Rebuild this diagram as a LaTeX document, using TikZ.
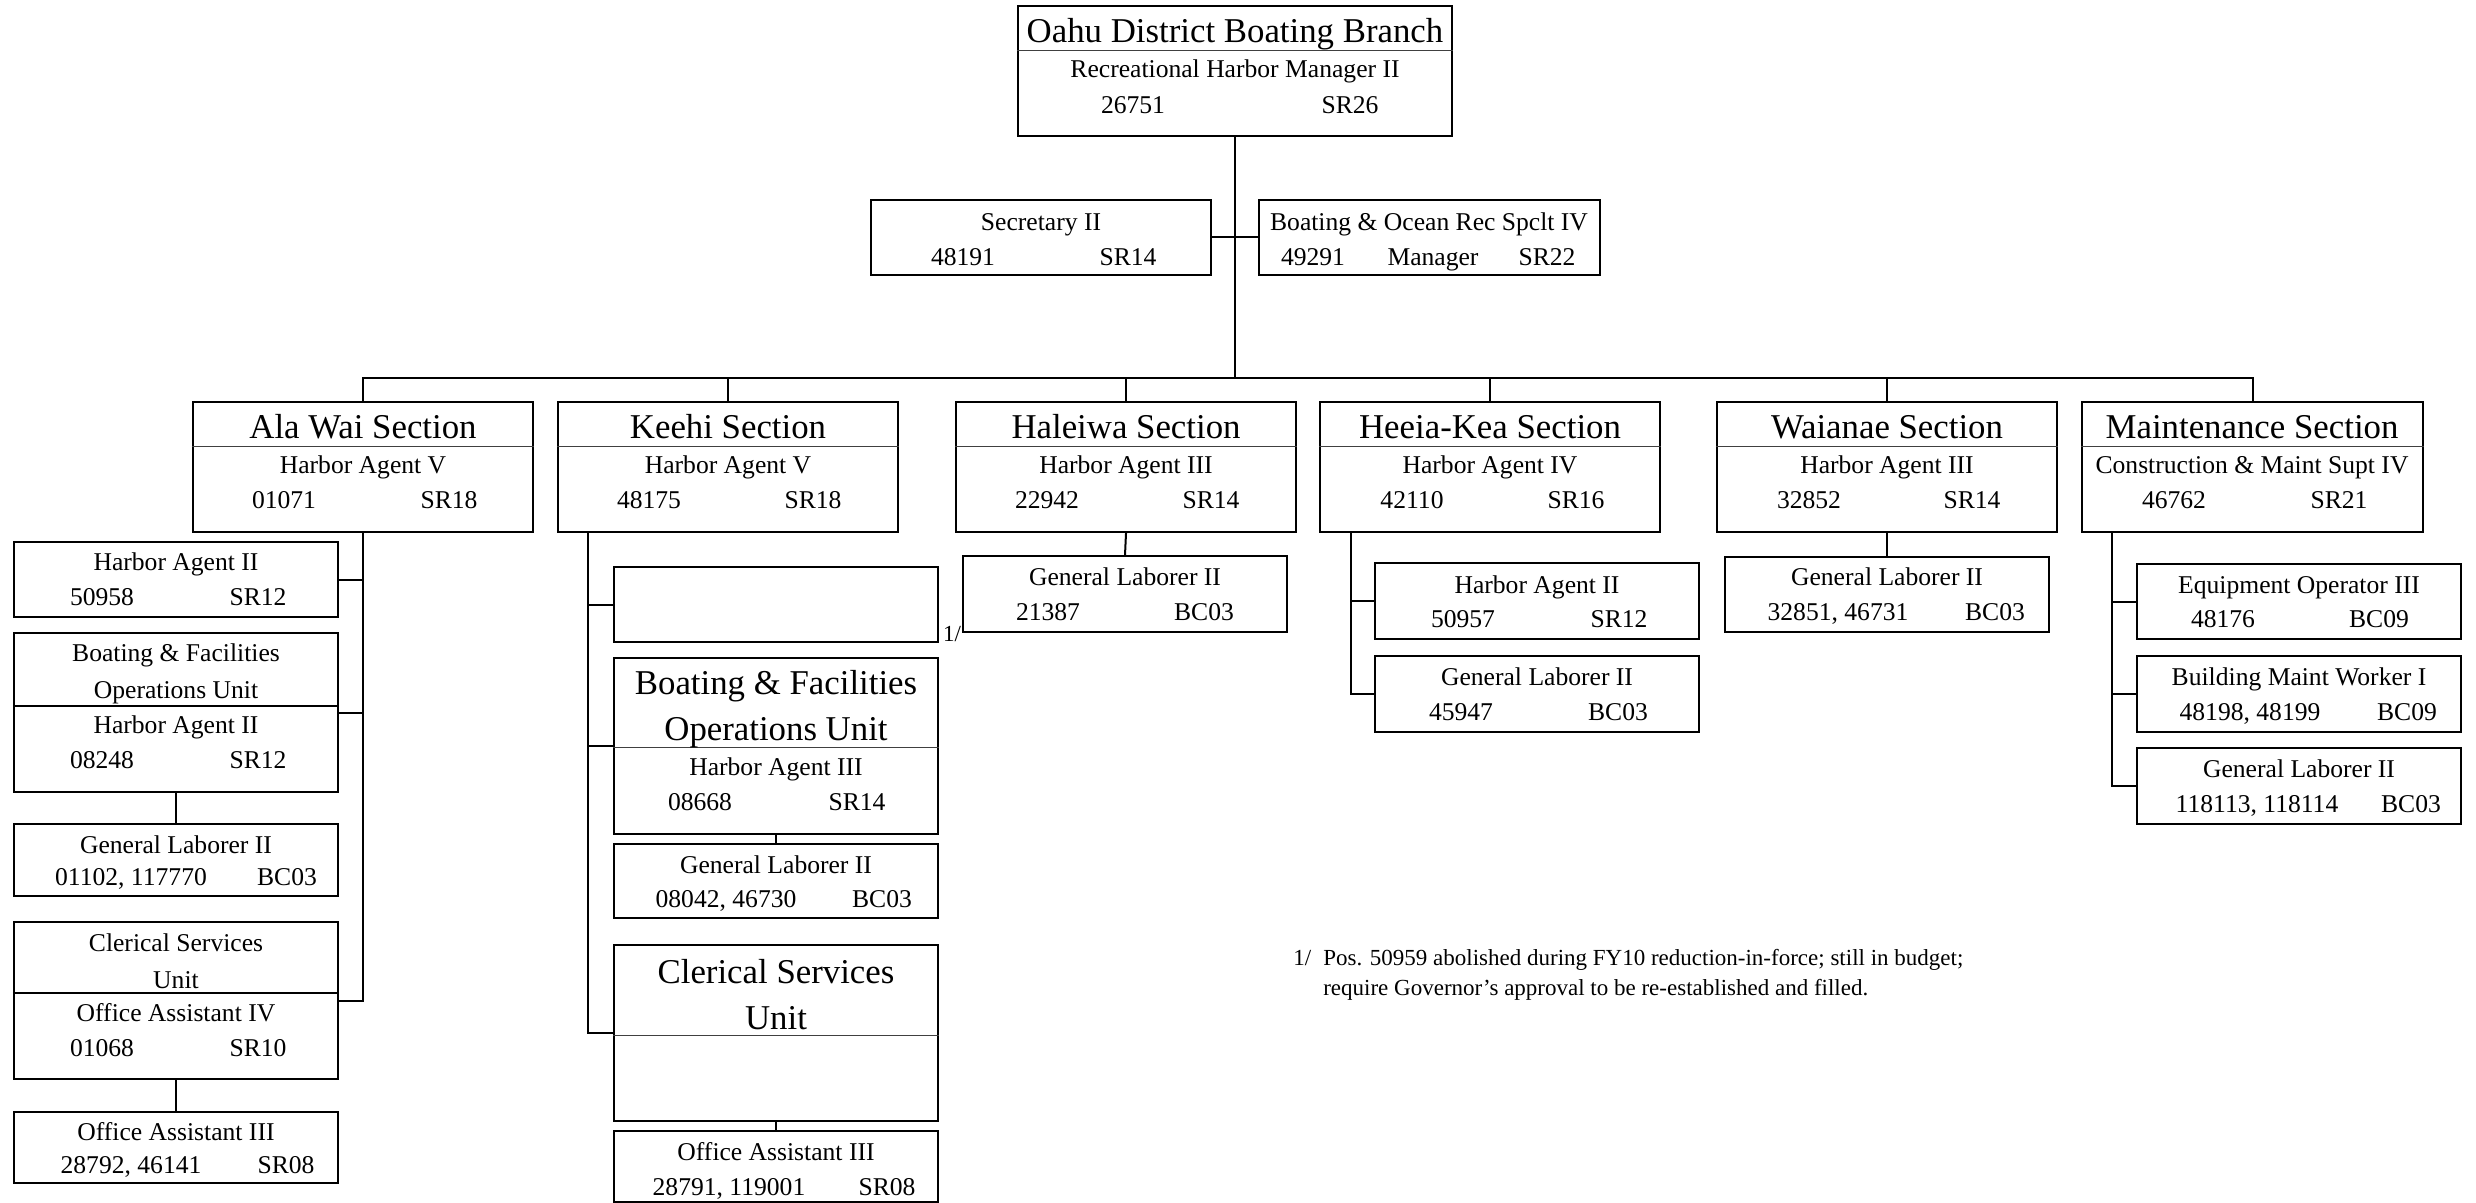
\documentclass[tikz,border=0pt]{standalone}
\usepackage{fontspec}
\setmainfont{Liberation Serif}
\usetikzlibrary{fit}

\begin{document}
\begin{tikzpicture}[x=0.5pt, y=-0.5pt,
  box/.style={draw, line width=1.2pt, inner sep=0pt},
  txt/.style={inner sep=0pt, font=\fontsize{12.8}{18.5}\selectfont, text height=8.5pt, text depth=0pt},
  bigtxt/.style={inner sep=0pt, font=\fontsize{17.4}{23}\selectfont, text height=11.5pt, text depth=0pt},
  para/.style={inner sep=0pt, font=\fontsize{12.8}{18.5}\selectfont, align=center},
  bigpara/.style={inner sep=0pt, font=\fontsize{17.4}{23}\selectfont, align=center},
  note/.style={inner sep=0pt, font=\fontsize{11.5}{15}\selectfont},
  link/.style={line width=1pt},
  rule/.style={line width=0.5pt, black!75}]
  \useasboundingbox (0,0) rectangle (2476,1203);

  % branch head and staff
  \node[box, fit={(1018,6) (1452,136)}] (branch) {};
  \draw[rule] ([yshift=-23pt]branch.north west) -- ([yshift=-23pt]branch.north east);
  \node[bigtxt] (branchttl) at (1235,31) {Oahu District Boating Branch};
  \node[txt] (branchjob) at (1235,69) {Recreational Harbor Manager II};
  \node[txt] (branchnum) at (1133,105) {26751};
  \node[txt] (branchsr) at (1350,105) {SR26};

  \node[box, fit={(871,200) (1211,275)}] (sec) {};
  \node[txt] (secjob) at (1041,222) {Secretary II};
  \node[txt] (secnum) at (963,257) {48191};
  \node[txt] (secsr) at (1128,257) {SR14};

  \node[box, fit={(1259,200) (1600,275)}] (boat) {};
  \node[txt] (boatjob) at (1429,222) {Boating \& Ocean Rec Spclt IV};
  \node[txt] (boatnum) at (1313,257) {49291};
  \node[txt] (boatmgr) at (1433,257) {Manager};
  \node[txt] (boatsr) at (1547,257) {SR22};

  \coordinate (bus) at (1235,378);

  % sections
  \node[box, fit={(193,402) (533,532)}] (alawai) {};
  \node[bigtxt] (alawaittl) at (363,427) {Ala Wai Section};
  \node[txt] (alawaijob) at (363,465) {Harbor Agent V};
  \node[txt] (alawainum) at (284,500) {01071};
  \node[txt] (alawaisr) at (449,500) {SR18};

  \node[box, fit={(558,402) (898,532)}] (keehi) {};
  \node[bigtxt] (keehittl) at (728,427) {Keehi Section};
  \node[txt] (keehijob) at (728,465) {Harbor Agent V};
  \node[txt] (keehinum) at (649,500) {48175};
  \node[txt] (keehisr) at (813,500) {SR18};

  \node[box, fit={(956,402) (1296,532)}] (haleiwa) {};
  \node[bigtxt] (haleiwattl) at (1126,427) {Haleiwa Section};
  \node[txt] (haleiwajob) at (1126,465) {Harbor Agent III};
  \node[txt] (haleiwanum) at (1047,500) {22942};
  \node[txt] (haleiwasr) at (1211,500) {SR14};

  \node[box, fit={(1320,402) (1660,532)}] (heeia) {};
  \node[bigtxt] (heeiattl) at (1490,427) {Heeia-Kea Section};
  \node[txt] (heeiajob) at (1490,465) {Harbor Agent IV};
  \node[txt] (heeianum) at (1412,500) {42110};
  \node[txt] (heeiasr) at (1576,500) {SR16};

  \node[box, fit={(1717,402) (2057,532)}] (waianae) {};
  \node[bigtxt] (waianaettl) at (1887,427) {Waianae Section};
  \node[txt] (waianaejob) at (1887,465) {Harbor Agent III};
  \node[txt] (waianaenum) at (1809,500) {32852};
  \node[txt] (waianaesr) at (1972,500) {SR14};

  \node[box, fit={(2082,402) (2423,532)}] (maint) {};
  \node[bigtxt] (maintttl) at (2252,427) {Maintenance Section};
  \node[txt] (maintjob) at (2252,465) {Construction \& Maint Supt IV};
  \node[txt] (maintnum) at (2174,500) {46762};
  \node[txt] (maintsr) at (2339,500) {SR21};

  \foreach \s in {alawai,keehi,haleiwa,heeia,waianae,maint}
    \draw[rule] ([yshift=-23pt]\s.north west) -- ([yshift=-23pt]\s.north east);

  % ala wai units
  \node[box, fit={(14,542) (338,617)}] (aha) {};
  \node[txt] (ahajob) at (176,562) {Harbor Agent II};
  \node[txt] (ahanum) at (102,597) {50958};
  \node[txt] (ahasr) at (258,597) {SR12};

  \node[box, fit={(14,633) (338,792)}] (abfo) {};
  \draw[link] ([yshift=-37pt]abfo.north west) -- ([yshift=-37pt]abfo.north east);
  \node[para] (abfottl) at (176,674) {Boating \& Facilities\\Operations Unit};
  \node[txt] (abfojob) at (176,725) {Harbor Agent II};
  \node[txt] (abfonum) at (102,760) {08248};
  \node[txt] (abfosr) at (258,760) {SR12};

  \node[box, fit={(14,824) (338,896)}] (agl) {};
  \node[txt] (agljob) at (176,845) {General Laborer II};
  \node[txt] (aglnum) at (131,877) {01102, 117770};
  \node[txt] (aglbc) at (287,877) {BC03};

  \node[box, fit={(14,922) (338,1079)}] (acsu) {};
  \draw[link] ([yshift=-36pt]acsu.north west) -- ([yshift=-36pt]acsu.north east);
  \node[para] (acsuttl) at (176,961) {Clerical Services\\Unit};
  \node[txt] (acsujob) at (176,1013) {Office Assistant IV};
  \node[txt] (acsunum) at (102,1048) {01068};
  \node[txt] (acsusr) at (258,1048) {SR10};

  \node[box, fit={(14,1112) (338,1183)}] (aoa) {};
  \node[txt] (aoajob) at (176,1132) {Office Assistant III};
  \node[txt] (aoanum) at (131,1165) {28792, 46141};
  \node[txt] (aoasr) at (286,1165) {SR08};

  % keehi units
  \node[box, fit={(614,567) (938,642)}] (kvac) {};
  \node[note] (kvacmark) at (952,634) {1/};

  \node[box, fit={(614,658) (938,834)}] (kbfo) {};
  \draw[rule] ([yshift=-45.5pt]kbfo.north west) -- ([yshift=-45.5pt]kbfo.north east);
  \node[bigpara] (kbfottl) at (776,709) {Boating \& Facilities\\Operations Unit};
  \node[txt] (kbfojob) at (776,767) {Harbor Agent III};
  \node[txt] (kbfonum) at (700,802) {08668};
  \node[txt] (kbfosr) at (857,802) {SR14};

  \node[box, fit={(614,844) (938,918)}] (kgl) {};
  \node[txt] (kgljob) at (776,865) {General Laborer II};
  \node[txt] (kglnum) at (726,899) {08042, 46730};
  \node[txt] (kglbc) at (882,899) {BC03};

  \node[box, fit={(614,945) (938,1121)}] (kcsu) {};
  \draw[rule] ([yshift=-46pt]kcsu.north west) -- ([yshift=-46pt]kcsu.north east);
  \node[bigpara] (kcsuttl) at (776,995) {Clerical Services\\Unit};

  \node[box, fit={(614,1131) (938,1202)}] (koa) {};
  \node[txt] (koajob) at (776,1152) {Office Assistant III};
  \node[txt] (koanum) at (729,1187) {28791, 119001};
  \node[txt] (koasr) at (887,1187) {SR08};

  % haleiwa, heeia-kea, waianae units
  \node[box, fit={(963,556) (1287,632)}] (hgl) {};
  \node[txt] (hgljob) at (1125,577) {General Laborer II};
  \node[txt] (hglnum) at (1048,612) {21387};
  \node[txt] (hglbc) at (1204,612) {BC03};

  \node[box, fit={(1375,563) (1699,639)}] (eha) {};
  \node[txt] (ehajob) at (1537,585) {Harbor Agent II};
  \node[txt] (ehanum) at (1463,619) {50957};
  \node[txt] (ehasr) at (1619,619) {SR12};

  \node[box, fit={(1375,656) (1699,732)}] (egl) {};
  \node[txt] (egljob) at (1537,677) {General Laborer II};
  \node[txt] (eglnum) at (1461,712) {45947};
  \node[txt] (eglbc) at (1618,712) {BC03};

  \node[box, fit={(1725,557) (2049,632)}] (wgl) {};
  \node[txt] (wgljob) at (1887,577) {General Laborer II};
  \node[txt] (wglnum) at (1838,612) {32851, 46731};
  \node[txt] (wglbc) at (1995,612) {BC03};

  % maintenance units
  \node[box, fit={(2137,564) (2461,639)}] (meo) {};
  \node[txt] (meojob) at (2299,585) {Equipment Operator III};
  \node[txt] (meonum) at (2223,619) {48176};
  \node[txt] (meobc) at (2379,619) {BC09};

  \node[box, fit={(2137,656) (2461,732)}] (mbmw) {};
  \node[txt] (mbmwjob) at (2299,677) {Building Maint Worker I};
  \node[txt] (mbmwnum) at (2250,712) {48198, 48199};
  \node[txt] (mbmwbc) at (2407,712) {BC09};

  \node[box, fit={(2137,748) (2461,824)}] (mgl) {};
  \node[txt] (mgljob) at (2299,769) {General Laborer II};
  \node[txt] (mglnum) at (2257,804) {118113, 118114};
  \node[txt] (mglbc) at (2411,804) {BC03};

  % footnote
  \node[note, anchor=west] (fnote) at (1293,974) {%
    \begin{tabular}{@{}l@{\hspace{6pt}}l@{}}
      1/ & Pos. 50959 abolished during FY10 reduction-in-force; still in budget;\\
         & require Governor's approval to be re-established and filled.
    \end{tabular}};

  % connectors
  \draw[link] (branch.south) -- (bus);
  \draw[link] (sec.east) -- (boat.west);
  \draw[link] (alawai.north) -- (alawai.north |- bus) -- (maint.north |- bus) -- (maint.north);
  \foreach \s in {keehi,haleiwa,heeia,waianae}
    \draw[link] (\s.north) -- (\s.north |- bus);

  \draw[link] (alawai.south) |- (acsu.east);
  \foreach \u in {aha,abfo}
    \draw[link] (\u.east) -- (\u.east -| alawai.south);
  \draw[link] (abfo.south) -- (agl.north);
  \draw[link] (acsu.south) -- (aoa.north);

  \coordinate (kroot) at ([xshift=15.5pt]keehi.south west);
  \draw[link] (kroot) |- (kcsu.west);
  \foreach \u in {kvac,kbfo}
    \draw[link] (\u.west) -- (\u.west -| kroot);
  \draw[link] (kbfo.south) -- (kgl.north);
  \draw[link] (kcsu.south) -- (koa.north);

  \draw[link] (haleiwa.south) -- (hgl.north);
  \draw[link] (waianae.south) -- (wgl.north);

  \coordinate (eroot) at ([xshift=16pt]heeia.south west);
  \draw[link] (eroot) |- (egl.west);
  \draw[link] (eha.west) -- (eha.west -| eroot);

  \coordinate (mroot) at ([xshift=15.5pt]maint.south west);
  \draw[link] (mroot) |- (mgl.west);
  \foreach \u in {meo,mbmw}
    \draw[link] (\u.west) -- (\u.west -| mroot);
\end{tikzpicture}
\end{document}
